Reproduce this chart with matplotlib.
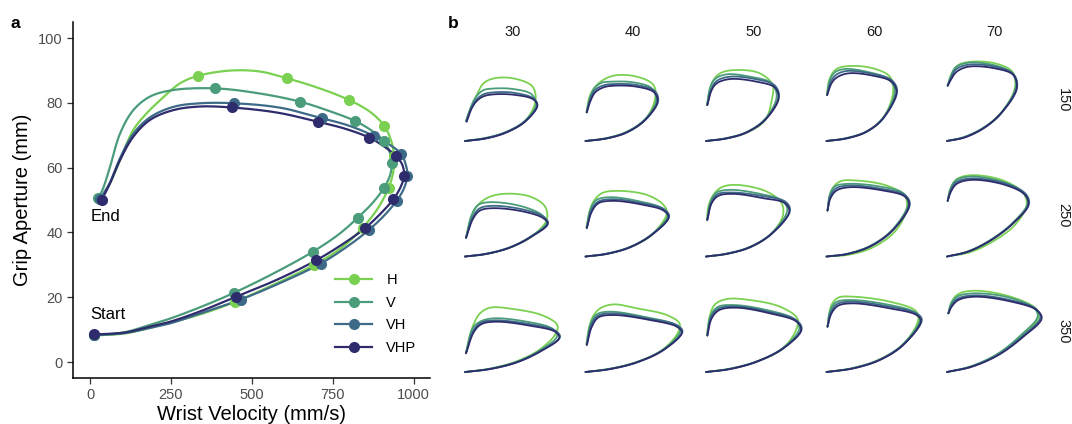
import numpy as np
import matplotlib
matplotlib.use("Agg")
import matplotlib.pyplot as plt
from matplotlib.lines import Line2D

plt.rcParams["font.family"] = ["Liberation Sans", "DejaVu Sans"]

series = ["H", "V", "VH", "VHP"]
colors = ["#7AD151", "#4A9C7A", "#3D6B87", "#2E2C6D"]

# ---- panel a: mean trajectories (wrist velocity mm/s, grip aperture mm)
H_vel = [13, 60, 113, 180, 250, 350, 448, 570, 691, 780, 843, 890, 923, 938, 940, 932, 909, 865, 801, 710,
         610, 526, 433, 335, 279, 217, 175, 134, 93, 62, 31]
H_ap = [8.2, 8.4, 8.9, 10.4, 12.2, 15, 18.6, 24, 29.9, 35.5, 41.5, 47.5, 53.8, 59, 63.5, 68, 73, 77.3, 80.9, 84.5,
        87.6, 89.7, 90, 88.4, 86.1, 80.9, 76.8, 71.7, 62.4, 55.2, 50.3]
V_vel = [13, 60, 113, 180, 250, 350, 446, 570, 688, 770, 828, 875, 909, 928, 933, 925, 909, 870, 818, 740,
         649, 520, 387, 258, 186, 134, 93, 62, 40, 26]
V_ap = [8.2, 8.6, 9.3, 11.3, 13.5, 17.3, 21.4, 27.5, 34, 39.5, 44.6, 49.3, 53.8, 57.8, 61.6, 65.2, 68.2, 71.5,
        74.5, 77.5, 80.4, 83, 84.5, 84, 82, 77.8, 70.6, 60.3, 53.5, 50.7]
VH_vel = [13, 60, 113, 180, 250, 350, 466, 590, 713, 800, 861, 910, 948, 970, 981, 976, 962, 925, 878, 800,
          716, 590, 446, 340, 258, 186, 134, 93, 62, 31]
VH_ap = [8.3, 8.5, 9, 10.4, 12, 15.3, 19.3, 24.5, 30.4, 36, 40.7, 45.3, 49.8, 53.5, 57.5, 61, 64.2, 67.2, 69.8,
         73, 75.3, 78.5, 79.9, 79.9, 78.8, 75.6, 70.5, 63, 55.5, 50.3]
VHP_vel = [13, 60, 113, 180, 250, 350, 450, 580, 699, 790, 851, 900, 938, 960, 971, 965, 946, 910, 863, 790,
           704, 580, 438, 340, 258, 186, 134, 93, 62, 36]
VHP_ap = [8.5, 8.7, 9.2, 10.8, 12.5, 16, 20.1, 25.5, 31.4, 37, 41.4, 46, 50.3, 54, 57.5, 61, 63.6, 66.5, 69.3,
          72, 74.2, 77, 78.6, 78.9, 77.8, 74.8, 69.6, 62.4, 55.2, 50]

# markers every 10 % of movement time
H_mk_vel = [13, 448, 691, 843, 923, 940, 909, 801, 610, 335, 31]
H_mk_ap = [8.2, 18.6, 29.9, 41.5, 53.8, 63.5, 73, 80.9, 87.6, 88.4, 50.3]
V_mk_vel = [13, 446, 688, 828, 909, 933, 909, 818, 649, 387, 26]
V_mk_ap = [8.2, 21.4, 34, 44.6, 53.8, 61.6, 68.2, 74.5, 80.4, 84.5, 50.7]
VH_mk_vel = [13, 466, 713, 861, 948, 981, 962, 878, 716, 446, 31]
VH_mk_ap = [8.3, 19.3, 30.4, 40.7, 49.8, 57.5, 64.2, 69.8, 75.3, 79.9, 50.3]
VHP_mk_vel = [13, 450, 699, 851, 938, 971, 946, 863, 704, 438, 36]
VHP_mk_ap = [8.5, 20.1, 31.4, 41.4, 50.3, 57.5, 63.6, 69.3, 74.2, 78.6, 50]

# ---- panel b: per object size (columns) and distance (rows), row-major
sizes = ["30", "40", "50", "60", "70"]
distances = ["150", "250", "350"]

b_H_vel = [
    [10, 270, 510, 730, 854, 822, 590, 350, 230, 150, 90, 22],
    [10, 266, 506, 726, 846, 826, 626, 346, 166, 66, 22],
    [10, 258, 498, 718, 798, 810, 658, 378, 178, 78, 22],
    [10, 250, 490, 690, 810, 770, 570, 290, 130, 50, 14],
    [10, 226, 466, 666, 826, 794, 586, 306, 146, 66, 18],
    [10, 270, 550, 810, 990, 970, 790, 470, 270, 150, 90, 22],
    [10, 266, 546, 806, 986, 946, 746, 386, 206, 106, 58, 22],
    [10, 258, 538, 778, 930, 918, 738, 378, 198, 98, 38, 22],
    [10, 290, 570, 830, 970, 950, 730, 370, 170, 70, 22],
    [10, 286, 566, 826, 966, 926, 686, 306, 126, 54, 18],
    [10, 310, 630, 910, 1102, 1118, 950, 590, 310, 190, 118, 70, 22],
    [10, 306, 626, 946, 1126, 1138, 986, 626, 346, 186, 98, 50, 22],
    [10, 298, 618, 938, 1098, 1106, 898, 538, 258, 118, 58, 22],
    [10, 330, 650, 930, 1110, 1082, 770, 330, 150, 70, 22],
    [10, 306, 626, 906, 1106, 1086, 786, 346, 146, 66, 26],
]
b_H_ap = [
    [8, 11.6, 18.8, 32, 55.2, 73.2, 83.2, 83, 77, 63, 51, 32],
    [8, 11.2, 18.8, 33.6, 59.2, 75.2, 85.2, 86.4, 77.2, 63.2, 42.4],
    [8, 11.2, 18, 32.8, 56.8, 75.2, 89.2, 93.2, 89.2, 77.2, 51.2],
    [8, 11.2, 19.2, 35.6, 67.2, 85.2, 95.2, 98, 94.4, 83.2, 63.2],
    [8, 12.8, 24.8, 42.4, 72, 91.2, 101.2, 103.2, 99.2, 89.2, 74.4],
    [8, 11.2, 18.8, 32, 52, 68, 80, 83.2, 78, 68, 56, 30.8],
    [8, 11.2, 19.2, 34, 60, 70, 82, 86.8, 84, 74, 62, 42.8],
    [8, 11.2, 19.2, 34, 56, 72, 86, 94, 91.2, 82, 68, 52],
    [8, 10.4, 19.2, 38, 64, 80.8, 93.2, 99.2, 98, 87.6, 63.2],
    [8, 13.2, 26.4, 46, 70, 84, 99.2, 105.6, 100.8, 90, 74.8],
    [8, 12, 20.8, 35.2, 54.4, 64.4, 75.6, 83.6, 85.2, 78.4, 66.4, 52.4, 31.2],
    [8, 12, 20, 35.6, 56.4, 66.4, 76.4, 84.4, 89.2, 84.4, 74.4, 60.4, 41.2],
    [8, 12, 20.4, 36.8, 60.4, 72.4, 86.4, 94.4, 95.6, 89.2, 76.4, 52.4],
    [8, 12.8, 23.2, 41.2, 70.4, 81.2, 92.4, 98.4, 97.2, 88.4, 62.4],
    [8, 14.8, 29.6, 51.2, 73.2, 83.2, 98, 105.6, 101.6, 92.4, 78.4],
]
b_V_vel = [
    [10, 270, 510, 730, 862, 810, 590, 350, 230, 150, 90, 22],
    [10, 266, 506, 726, 858, 806, 586, 306, 206, 114, 58, 22],
    [10, 258, 498, 718, 858, 798, 538, 258, 118, 58, 22],
    [10, 250, 490, 690, 830, 750, 490, 230, 110, 50, 14],
    [10, 226, 466, 666, 834, 794, 566, 266, 114, 58, 18],
    [10, 270, 550, 810, 990, 930, 670, 310, 170, 90, 22],
    [10, 266, 546, 806, 994, 926, 666, 306, 146, 74, 22],
    [10, 258, 538, 798, 986, 918, 658, 298, 138, 66, 22],
    [10, 270, 550, 810, 990, 930, 650, 270, 110, 50, 22],
    [10, 266, 546, 806, 978, 926, 666, 286, 114, 50, 18],
    [10, 310, 630, 910, 1118, 1050, 750, 350, 190, 102, 22],
    [10, 306, 626, 946, 1146, 1074, 746, 306, 146, 74, 22],
    [10, 298, 618, 938, 1130, 1066, 738, 338, 150, 66, 22],
    [10, 330, 650, 930, 1130, 1070, 730, 290, 122, 50, 22],
    [10, 306, 626, 898, 1098, 1058, 746, 326, 130, 58, 26],
]
b_V_ap = [
    [8, 12, 19.2, 32.4, 51.2, 64, 70.4, 71, 69, 62, 51, 32],
    [8, 11.6, 19.2, 34.4, 56.8, 71.2, 78.4, 79.2, 78, 71.2, 58, 42.4],
    [8, 11.6, 18.8, 34.4, 61.2, 77.2, 85.2, 88, 82.4, 71.2, 51.2],
    [8, 11.6, 19.6, 36, 69.2, 82.4, 91.2, 94.4, 90.4, 81.2, 63.2],
    [8, 13.2, 25.2, 42.8, 72.8, 89.2, 99.2, 102, 96.4, 86, 74.4],
    [8, 11.6, 19.2, 32.8, 48.8, 58, 68.8, 73.2, 70, 58, 30.8],
    [8, 11.6, 19.6, 34.8, 56.8, 66, 74, 79.2, 76, 66, 42.8],
    [8, 11.6, 19.6, 36, 64, 75.2, 83.2, 88, 84.8, 74, 52],
    [8, 11.6, 21.6, 41.2, 72, 84, 92, 95.2, 92, 82, 63.2],
    [8, 14.4, 28.8, 49.2, 72, 84.8, 98, 104, 99.2, 88.8, 74.8],
    [8, 12, 20.4, 34, 51.6, 60.4, 68.4, 72.4, 68.4, 60.4, 31.2],
    [8, 12, 20, 35.2, 57.2, 65.2, 73.6, 80.4, 77.2, 66.4, 41.2],
    [8, 12, 20.8, 37.2, 60.4, 71.6, 82.4, 88.4, 86, 75.6, 52.4],
    [8, 12.8, 23.2, 41.6, 71.2, 79.6, 89.2, 94.4, 91.6, 80.4, 62.4],
    [8, 15.2, 30.4, 52.4, 74.4, 84.4, 97.6, 102.4, 98.4, 89.6, 78.4],
]
b_VH_vel = [
    [10, 270, 510, 730, 878, 830, 590, 350, 230, 150, 90, 26],
    [10, 266, 506, 726, 882, 842, 626, 346, 226, 122, 62, 26],
    [10, 258, 498, 718, 886, 838, 598, 298, 138, 74, 26],
    [10, 250, 490, 690, 858, 790, 550, 250, 122, 62, 18],
    [10, 226, 466, 666, 850, 810, 586, 266, 118, 62, 18],
    [10, 270, 550, 810, 1006, 950, 690, 330, 182, 102, 22],
    [10, 266, 546, 806, 1014, 954, 686, 326, 158, 82, 26],
    [10, 258, 538, 798, 1018, 966, 678, 318, 150, 74, 26],
    [10, 270, 550, 810, 1010, 954, 670, 282, 122, 54, 22],
    [10, 266, 546, 810, 994, 954, 698, 298, 122, 54, 18],
    [10, 310, 630, 910, 1150, 1090, 782, 370, 202, 110, 22],
    [10, 306, 626, 946, 1174, 1114, 766, 326, 154, 78, 26],
    [10, 298, 618, 938, 1158, 1098, 758, 358, 158, 70, 26],
    [10, 330, 650, 930, 1154, 1098, 750, 310, 138, 62, 22],
    [10, 306, 626, 918, 1130, 1078, 766, 338, 138, 62, 26],
]
b_VH_ap = [
    [8, 11.6, 18.8, 31.6, 51.2, 59.2, 66, 66.4, 64, 58, 48.5, 31.6],
    [8, 11.2, 18.4, 33.6, 56, 68, 75.2, 76.4, 74.8, 69, 57, 42.4],
    [8, 11.2, 18.4, 33.6, 60, 74.4, 82.4, 85.2, 80, 70, 51.2],
    [8, 11.2, 19.2, 35.6, 68, 81.2, 88.8, 92, 87.2, 79.2, 63.2],
    [8, 12.8, 24.8, 42.4, 72, 88, 97.2, 99.6, 94, 84.8, 74.4],
    [8, 11.2, 18.8, 32.4, 48, 56, 64.8, 68.8, 65.6, 55.2, 30.4],
    [8, 11.2, 19.2, 34.4, 56, 64.8, 72, 76.8, 73.6, 64, 42.4],
    [8, 11.2, 19.2, 35.6, 63.2, 73.6, 80.8, 84.8, 82.8, 72.8, 52],
    [8, 11.2, 21.2, 40.4, 70.8, 81.6, 89.2, 93.2, 89.6, 80, 63.2],
    [8, 14, 28.4, 48.8, 71.2, 83.2, 96, 101.6, 97.2, 87.2, 74.8],
    [8, 11.6, 19.6, 33.2, 50, 58, 65.6, 70, 67.2, 57.6, 30.8],
    [8, 11.6, 19.6, 34.8, 56.4, 64, 72, 78.4, 75.2, 64.4, 40.8],
    [8, 11.6, 20.4, 36.8, 59.2, 70, 80.4, 86.8, 84, 74, 52],
    [8, 12.4, 22.8, 40.8, 70.4, 78, 86.8, 92.4, 89.6, 79.6, 62.4],
    [8, 14.4, 28.8, 51.2, 73.2, 83.6, 94.4, 100, 96, 88, 78.4],
]
b_VHP_vel = [
    [10, 270, 510, 730, 878, 830, 590, 350, 230, 150, 90, 30],
    [10, 266, 506, 726, 874, 834, 626, 346, 226, 126, 66, 26],
    [10, 258, 498, 718, 878, 838, 618, 298, 138, 78, 26],
    [10, 250, 490, 690, 850, 790, 570, 270, 130, 70, 18],
    [10, 226, 466, 666, 846, 806, 586, 266, 126, 66, 18],
    [10, 270, 550, 810, 1002, 950, 710, 350, 190, 110, 22],
    [10, 266, 546, 806, 1006, 946, 706, 346, 166, 86, 26],
    [10, 258, 538, 798, 1010, 958, 698, 338, 158, 78, 26],
    [10, 270, 550, 810, 1002, 950, 690, 290, 130, 58, 22],
    [10, 266, 546, 806, 986, 946, 706, 306, 126, 58, 18],
    [10, 310, 630, 910, 1142, 1090, 790, 390, 210, 118, 22],
    [10, 306, 626, 946, 1166, 1106, 786, 346, 166, 86, 26],
    [10, 298, 618, 938, 1150, 1098, 778, 378, 170, 78, 26],
    [10, 330, 650, 930, 1142, 1090, 770, 330, 150, 70, 22],
    [10, 306, 626, 926, 1146, 1086, 786, 346, 146, 66, 26],
]
b_VHP_ap = [
    [8, 11.2, 18.4, 31.2, 50.4, 58, 63.6, 64, 61.6, 56, 47.2, 31.2],
    [8, 11.2, 18.4, 33.2, 55.2, 66.4, 73.2, 74.4, 72.4, 66.4, 55.2, 42.4],
    [8, 11.2, 18.4, 33.2, 59.2, 72, 79.2, 82.4, 77.2, 69.2, 51.2],
    [8, 11.2, 19.2, 35.2, 67.2, 79.2, 86.4, 89.2, 84, 77.2, 63.2],
    [8, 12.4, 24.4, 42, 71.2, 87.2, 95.2, 97.2, 91.2, 83.2, 74.4],
    [8, 11.2, 18.8, 32, 47.2, 54, 62, 66, 63.2, 54, 30.4],
    [8, 11.2, 19.2, 34, 55.2, 63.2, 70, 74.8, 72, 62, 42],
    [8, 11.2, 19.2, 35.2, 62, 72, 78, 83.2, 80.8, 72, 52],
    [8, 11.2, 20.8, 40, 70, 80, 87.2, 91.2, 87.2, 78, 63.2],
    [8, 14, 28, 48, 70, 82, 94, 100, 95.2, 86, 74.8],
    [8, 11.6, 19.6, 32.4, 49.2, 56.4, 63.6, 68.4, 65.6, 56.4, 30.4],
    [8, 11.6, 19.6, 34.4, 55.6, 62.4, 70.4, 76.4, 73.6, 62.4, 40.4],
    [8, 11.6, 20.4, 36.4, 58.4, 68.4, 78.4, 85.2, 82.4, 72.4, 51.6],
    [8, 12.4, 22.4, 40.4, 69.2, 76.4, 84.4, 90.4, 87.6, 78.4, 62.4],
    [8, 14.4, 28.4, 50.4, 72.4, 82.4, 92.4, 98.4, 94.4, 86.4, 78.4],
]


def smooth(x, y, n=16, xs=10.0):
    # centripetal catmull-rom through the read points (x scaled to match y on screen)
    p = np.column_stack([np.asarray(x, float) / xs, np.asarray(y, float)])
    p = np.vstack([2 * p[0] - p[1], p, 2 * p[-1] - p[-2]])
    out = []
    for i in range(1, len(p) - 2):
        p0, p1, p2, p3 = p[i - 1], p[i], p[i + 1], p[i + 2]
        t0 = 0.0
        t1 = t0 + max(np.hypot(*(p1 - p0)), 1e-6) ** 0.5
        t2 = t1 + max(np.hypot(*(p2 - p1)), 1e-6) ** 0.5
        t3 = t2 + max(np.hypot(*(p3 - p2)), 1e-6) ** 0.5
        t = np.linspace(t1, t2, n, endpoint=False)[:, None]
        a1 = (t1 - t) / (t1 - t0) * p0 + (t - t0) / (t1 - t0) * p1
        a2 = (t2 - t) / (t2 - t1) * p1 + (t - t1) / (t2 - t1) * p2
        a3 = (t3 - t) / (t3 - t2) * p2 + (t - t2) / (t3 - t2) * p3
        b1 = (t2 - t) / (t2 - t0) * a1 + (t - t0) / (t2 - t0) * a2
        b2 = (t3 - t) / (t3 - t1) * a2 + (t - t1) / (t3 - t1) * a3
        out.append((t2 - t) / (t2 - t1) * b1 + (t - t1) / (t2 - t1) * b2)
    out.append(p[-2][None, :])
    out = np.vstack(out)
    return out[:, 0] * xs, out[:, 1]


W, H = 1072, 424
fig = plt.figure(figsize=(W / 100, H / 100), dpi=100)

# ---------------- panel a
ax = fig.add_axes([73 / W, 1 - 378 / H, 357 / W, 356 / H])
lines_a = [(H_vel, H_ap), (V_vel, V_ap), (VH_vel, VH_ap), (VHP_vel, VHP_ap)]
marks_a = [(H_mk_vel, H_mk_ap), (V_mk_vel, V_mk_ap), (VH_mk_vel, VH_mk_ap), (VHP_mk_vel, VHP_mk_ap)]
for (vx, vy), col in zip(lines_a, colors):
    sx, sy = smooth(vx, vy)
    ax.plot(sx, sy, color=col, lw=1.6, solid_capstyle="round", zorder=2)
for (mx, my), col in zip(marks_a, colors):
    ax.plot(mx, my, "o", color=col, ms=8, mew=0, zorder=3)

ax.set_xlim(-52.6, 1051)
ax.set_ylim(-4.94, 105)
ax.set_xticks([0, 250, 500, 750, 1000])
ax.set_yticks([0, 20, 40, 60, 80, 100])
for s in ["top", "right"]:
    ax.spines[s].set_visible(False)
for s in ["left", "bottom"]:
    ax.spines[s].set_linewidth(1.1)
ax.tick_params(labelsize=10.5, labelcolor="#4D4D4D", color="#333333", length=4, width=0.9)
ax.set_xlabel("Wrist Velocity (mm/s)", fontsize=14.5, labelpad=2)
ax.set_ylabel("Grip Aperture (mm)", fontsize=14.5, labelpad=4)
ax.text(2, 45, "End", fontsize=12, va="center", ha="left")
ax.text(2, 14.8, "Start", fontsize=12, va="center", ha="left")

handles = [Line2D([], [], color=c, lw=1.6, marker="o", ms=8, mew=0) for c in colors]
ax.legend(handles, series, loc="upper left", bbox_to_anchor=(0.735, 0.295), frameon=False,
          fontsize=10.5, handlelength=2.5, handletextpad=1.0, labelspacing=0.6,
          borderpad=0, borderaxespad=0)

fig.text(15 / W, 1 - 23 / H, "a", fontsize=12.5, fontweight="bold", ha="center", va="center")
fig.text(453 / W, 1 - 23 / H, "b", fontsize=12.5, fontweight="bold", ha="center", va="center")

# ---------------- panel b
b_vel = [b_H_vel, b_V_vel, b_VH_vel, b_VHP_vel]
b_ap = [b_H_ap, b_V_ap, b_VH_ap, b_VHP_ap]
for r in range(len(distances)):
    for c in range(len(sizes)):
        k = r * len(sizes) + c
        left = 455 + 120.5 * c
        top = 37.7 + 115.5 * r
        axb = fig.add_axes([left / W, 1 - (top + 110) / H, 115 / W, 110 / H])
        for s in range(len(series)):
            sx, sy = smooth(b_vel[s][k], b_ap[s][k], n=12)
            axb.plot(sx, sy, color=colors[s], lw=1.3, solid_capstyle="round")
        axb.set_xlim(-110, 1270)
        axb.set_ylim(0, 132)
        axb.axis("off")

for c, lab in enumerate(sizes):
    fig.text((512.5 + 120.5 * c) / W, 1 - 32 / H, lab, fontsize=10.5, color="#1A1A1A",
             ha="center", va="center")
for r, lab in enumerate(distances):
    fig.text(1063 / W, 1 - (100 + 115.5 * r) / H, lab, fontsize=10.5, color="#1A1A1A",
             ha="center", va="center", rotation=-90)

fig.savefig("out.png", dpi=100)
